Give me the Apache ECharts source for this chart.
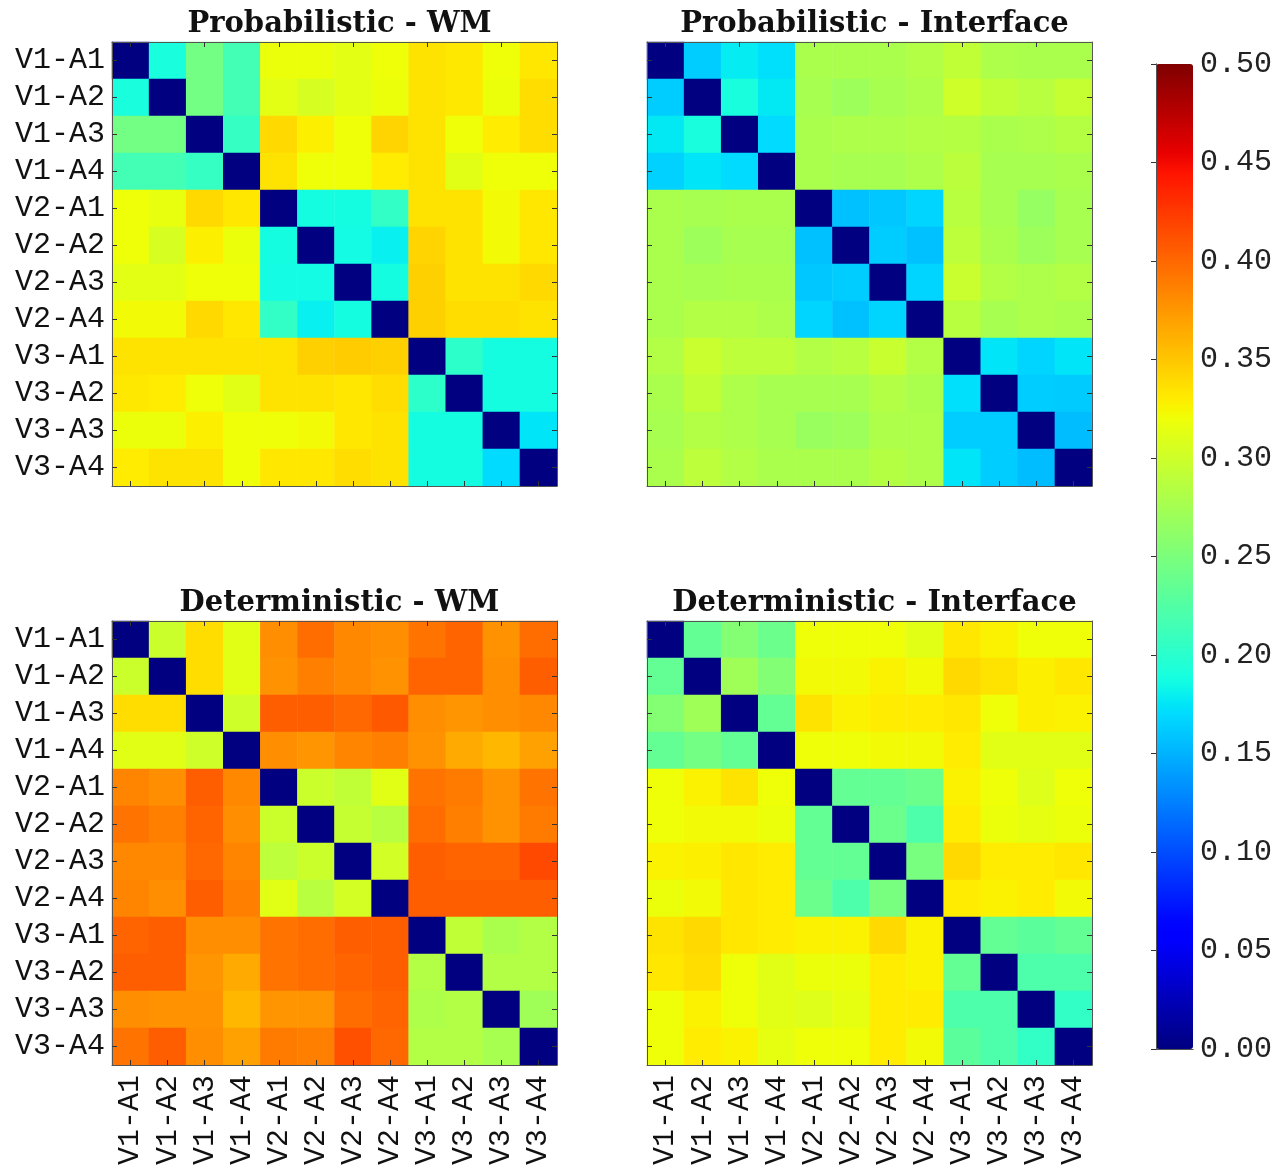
<!DOCTYPE html>
<html>
<head>
<meta charset="utf-8">
<script src="https://cdn.jsdelivr.net/npm/echarts@6/dist/echarts.min.js"></script>
<style>
html,body{margin:0;padding:0;background:#fff;}
#chart{width:1284px;height:1170px;}
</style>
</head>
<body>
<div id="chart"></div>
<script>
const labels = ['V1-A1','V1-A2','V1-A3','V1-A4','V2-A1','V2-A2','V2-A3','V2-A4','V3-A1','V3-A2','V3-A3','V3-A4'];

const titles = ['Probabilistic - WM','Probabilistic - Interface','Deterministic - WM','Deterministic - Interface'];

const probWM = [
  [0,0.19,0.245,0.215,0.318,0.318,0.313,0.32,0.335,0.332,0.32,0.333],
  [0.19,0,0.245,0.215,0.313,0.305,0.313,0.318,0.335,0.332,0.318,0.338],
  [0.245,0.245,0,0.207,0.34,0.328,0.32,0.343,0.335,0.32,0.33,0.338],
  [0.215,0.215,0.207,0,0.335,0.32,0.32,0.33,0.335,0.312,0.32,0.32],
  [0.32,0.316,0.34,0.333,0,0.188,0.188,0.205,0.335,0.335,0.322,0.333],
  [0.32,0.305,0.328,0.318,0.188,0,0.187,0.18,0.343,0.335,0.322,0.333],
  [0.313,0.313,0.32,0.32,0.187,0.187,0,0.188,0.345,0.335,0.335,0.34],
  [0.322,0.322,0.34,0.333,0.205,0.18,0.188,0,0.345,0.338,0.338,0.335],
  [0.335,0.335,0.335,0.335,0.335,0.345,0.347,0.345,0,0.202,0.188,0.188],
  [0.332,0.33,0.32,0.312,0.335,0.335,0.333,0.338,0.202,0,0.188,0.188],
  [0.318,0.318,0.328,0.32,0.32,0.322,0.333,0.335,0.188,0.188,0,0.175],
  [0.33,0.335,0.335,0.32,0.333,0.333,0.338,0.335,0.188,0.188,0.17,0]
];

const probIF = [
  [0,0.163,0.178,0.172,0.278,0.278,0.278,0.283,0.292,0.28,0.278,0.278],
  [0.163,0,0.19,0.177,0.276,0.27,0.276,0.28,0.3,0.292,0.287,0.295],
  [0.177,0.19,0,0.17,0.278,0.28,0.28,0.283,0.285,0.278,0.28,0.285],
  [0.165,0.175,0.17,0,0.278,0.276,0.276,0.28,0.289,0.276,0.276,0.278],
  [0.278,0.276,0.278,0.278,0,0.157,0.16,0.167,0.287,0.276,0.266,0.276],
  [0.278,0.27,0.276,0.276,0.157,0,0.163,0.157,0.29,0.278,0.27,0.276],
  [0.278,0.276,0.278,0.278,0.16,0.163,0,0.167,0.297,0.283,0.28,0.283],
  [0.278,0.283,0.283,0.28,0.167,0.157,0.167,0,0.287,0.276,0.28,0.278],
  [0.283,0.297,0.29,0.29,0.283,0.287,0.296,0.283,0,0.175,0.167,0.175],
  [0.278,0.292,0.28,0.276,0.276,0.276,0.283,0.278,0.172,0,0.163,0.162],
  [0.276,0.283,0.28,0.276,0.268,0.27,0.28,0.28,0.163,0.163,0,0.155],
  [0.278,0.29,0.283,0.278,0.278,0.278,0.285,0.28,0.175,0.163,0.155,0]
];

const detWM = [
  [0,0.298,0.338,0.312,0.38,0.397,0.383,0.38,0.394,0.402,0.378,0.397],
  [0.298,0,0.338,0.312,0.378,0.388,0.383,0.378,0.402,0.402,0.38,0.405],
  [0.338,0.338,0,0.3,0.405,0.405,0.4,0.408,0.38,0.376,0.38,0.383],
  [0.312,0.312,0.3,0,0.38,0.376,0.385,0.388,0.378,0.365,0.358,0.37],
  [0.385,0.38,0.405,0.383,0,0.298,0.292,0.312,0.394,0.39,0.378,0.394],
  [0.394,0.388,0.402,0.38,0.298,0,0.295,0.287,0.397,0.388,0.378,0.39],
  [0.383,0.383,0.4,0.385,0.29,0.298,0,0.302,0.405,0.402,0.402,0.417],
  [0.385,0.38,0.405,0.388,0.312,0.287,0.303,0,0.405,0.405,0.405,0.405],
  [0.402,0.405,0.38,0.38,0.394,0.397,0.405,0.405,0,0.292,0.278,0.283],
  [0.405,0.405,0.376,0.365,0.394,0.397,0.402,0.405,0.283,0,0.283,0.283],
  [0.38,0.378,0.378,0.358,0.376,0.376,0.397,0.402,0.28,0.283,0,0.272],
  [0.394,0.405,0.38,0.37,0.39,0.388,0.413,0.4,0.283,0.283,0.276,0]
];

const detIF = [
  [0,0.235,0.255,0.24,0.32,0.32,0.32,0.312,0.333,0.327,0.32,0.32],
  [0.235,0,0.272,0.254,0.322,0.322,0.327,0.322,0.34,0.335,0.328,0.333],
  [0.255,0.272,0,0.235,0.335,0.327,0.33,0.33,0.333,0.32,0.328,0.327],
  [0.235,0.245,0.235,0,0.32,0.32,0.322,0.322,0.33,0.312,0.312,0.312],
  [0.32,0.327,0.335,0.32,0,0.235,0.235,0.24,0.327,0.32,0.31,0.32],
  [0.32,0.322,0.322,0.318,0.235,0,0.24,0.222,0.33,0.318,0.315,0.318],
  [0.327,0.328,0.333,0.33,0.235,0.235,0,0.248,0.34,0.33,0.33,0.333],
  [0.318,0.322,0.333,0.33,0.24,0.222,0.248,0,0.33,0.327,0.33,0.322],
  [0.335,0.34,0.333,0.33,0.327,0.327,0.34,0.327,0,0.235,0.23,0.235],
  [0.333,0.338,0.32,0.312,0.318,0.318,0.33,0.327,0.235,0,0.222,0.222],
  [0.32,0.327,0.32,0.312,0.31,0.315,0.33,0.33,0.222,0.222,0,0.205],
  [0.32,0.33,0.327,0.315,0.32,0.32,0.33,0.322,0.23,0.222,0.205,0]
];

const colorMin = 0, colorMax = 0.5, colorStep = 0.05;

// matplotlib "jet" colormap
function segInterp(pts, t){
  for (let i = 1; i < pts.length; i++){
    if (t <= pts[i][0]){
      const a = pts[i-1], b = pts[i];
      return a[1] + (b[1]-a[1]) * (t - a[0]) / (b[0]-a[0]);
    }
  }
  return pts[pts.length-1][1];
}
const R = [[0,0],[0.35,0],[0.66,1],[0.89,1],[1,0.5]];
const G = [[0,0],[0.125,0],[0.375,1],[0.64,1],[0.91,0],[1,0]];
const B = [[0,0.5],[0.11,1],[0.34,1],[0.65,0],[1,0]];
const jet = [];
for (let i = 0; i <= 100; i++){
  const t = i/100;
  const r = Math.round(255*segInterp(R,t)), g = Math.round(255*segInterp(G,t)), b = Math.round(255*segInterp(B,t));
  jet.push('rgb('+r+','+g+','+b+')');
}

const matrices = [probWM, probIF, detWM, detIF];
const layout = [
  {left:112, top:42, showY:true, showX:false},
  {left:647, top:42, showY:false, showX:false},
  {left:112, top:621, showY:true, showX:true},
  {left:647, top:621, showY:false, showX:true}
];
const W = 445, H = 444;
const tickFont = {fontFamily:'Liberation Mono', fontSize:30, fontWeight:'normal', color:'#111'};
const frame = {show:true, lineStyle:{color:'#555', width:1}};
const tick = {show:true, inside:true, length:5, alignWithLabel:true, lineStyle:{color:'#333'}};

const grid = [], xAxis = [], yAxis = [], series = [], title = [];
layout.forEach((p, i) => {
  grid.push({left:p.left, top:p.top, width:W, height:H, containLabel:false});
  title.push({text:titles[i], left:p.left + W/2, top:p.top - 37, textAlign:'center',
    textStyle:{fontFamily:'DejaVu Serif', fontWeight:'bold', fontSize:29, color:'#111'}});
  xAxis.push({type:'category', gridIndex:i, data:labels, position:'bottom', z:5,
    axisLine:frame, axisTick:tick, splitLine:{show:false},
    axisLabel:Object.assign({show:p.showX, rotate:90, margin:10, interval:0}, tickFont)});
  xAxis.push({type:'category', gridIndex:i, data:labels, position:'top', z:5,
    axisLine:frame, axisTick:tick, axisLabel:{show:false}, splitLine:{show:false}});
  yAxis.push({type:'category', gridIndex:i, data:labels, inverse:true, position:'left', z:5,
    axisLine:frame, axisTick:tick, splitLine:{show:false},
    axisLabel:Object.assign({show:p.showY, margin:7, interval:0}, tickFont)});
  yAxis.push({type:'category', gridIndex:i, data:labels, inverse:true, position:'right', z:5,
    axisLine:frame, axisTick:tick, axisLabel:{show:false}, splitLine:{show:false}});
  const data = [];
  matrices[i].forEach((row, r) => row.forEach((v, c) => data.push([c, r, v])));
  series.push({type:'heatmap', xAxisIndex:2*i, yAxisIndex:2*i, data:data, emphasis:{disabled:true}, progressive:0});
});

// colorbar axis frame
const CB = {left:1156, top:64, width:37, height:985};
grid.push({left:CB.left, top:CB.top, width:CB.width, height:CB.height});
xAxis.push({type:'value', gridIndex:4, position:'bottom', z:10, axisLine:frame, axisTick:{show:false}, axisLabel:{show:false}, splitLine:{show:false}});
xAxis.push({type:'value', gridIndex:4, position:'top', z:10, axisLine:frame, axisTick:{show:false}, axisLabel:{show:false}, splitLine:{show:false}});
yAxis.push({type:'value', gridIndex:4, position:'right', min:colorMin, max:colorMax, interval:colorStep, z:10,
  axisLine:frame, axisTick:{show:true, inside:true, length:5, lineStyle:{color:'#333'}}, splitLine:{show:false},
  axisLabel:{show:true, margin:7, formatter:v => v.toFixed(2), fontFamily:'Liberation Mono', fontSize:30, color:'#222'}});
yAxis.push({type:'value', gridIndex:4, position:'left', min:colorMin, max:colorMax, z:10,
  axisLine:frame, axisTick:{show:false}, axisLabel:{show:false}, splitLine:{show:false}});

const chart = echarts.init(document.getElementById('chart'), null, {renderer:'canvas'});
chart.setOption({
  backgroundColor:'#fff',
  animation:false,
  title:title,
  grid:grid,
  xAxis:xAxis,
  yAxis:yAxis,
  visualMap:{
    type:'continuous', min:colorMin, max:colorMax, seriesIndex:[0,1,2,3],
    calculable:false, realtime:false, orient:'vertical',
    left:CB.left, top:CB.top, itemWidth:CB.width, itemHeight:CB.height,
    padding:0, text:null, showLabel:false, hoverLink:false,
    inRange:{color:jet}
  },
  series:series
});
</script>
</body>
</html>
